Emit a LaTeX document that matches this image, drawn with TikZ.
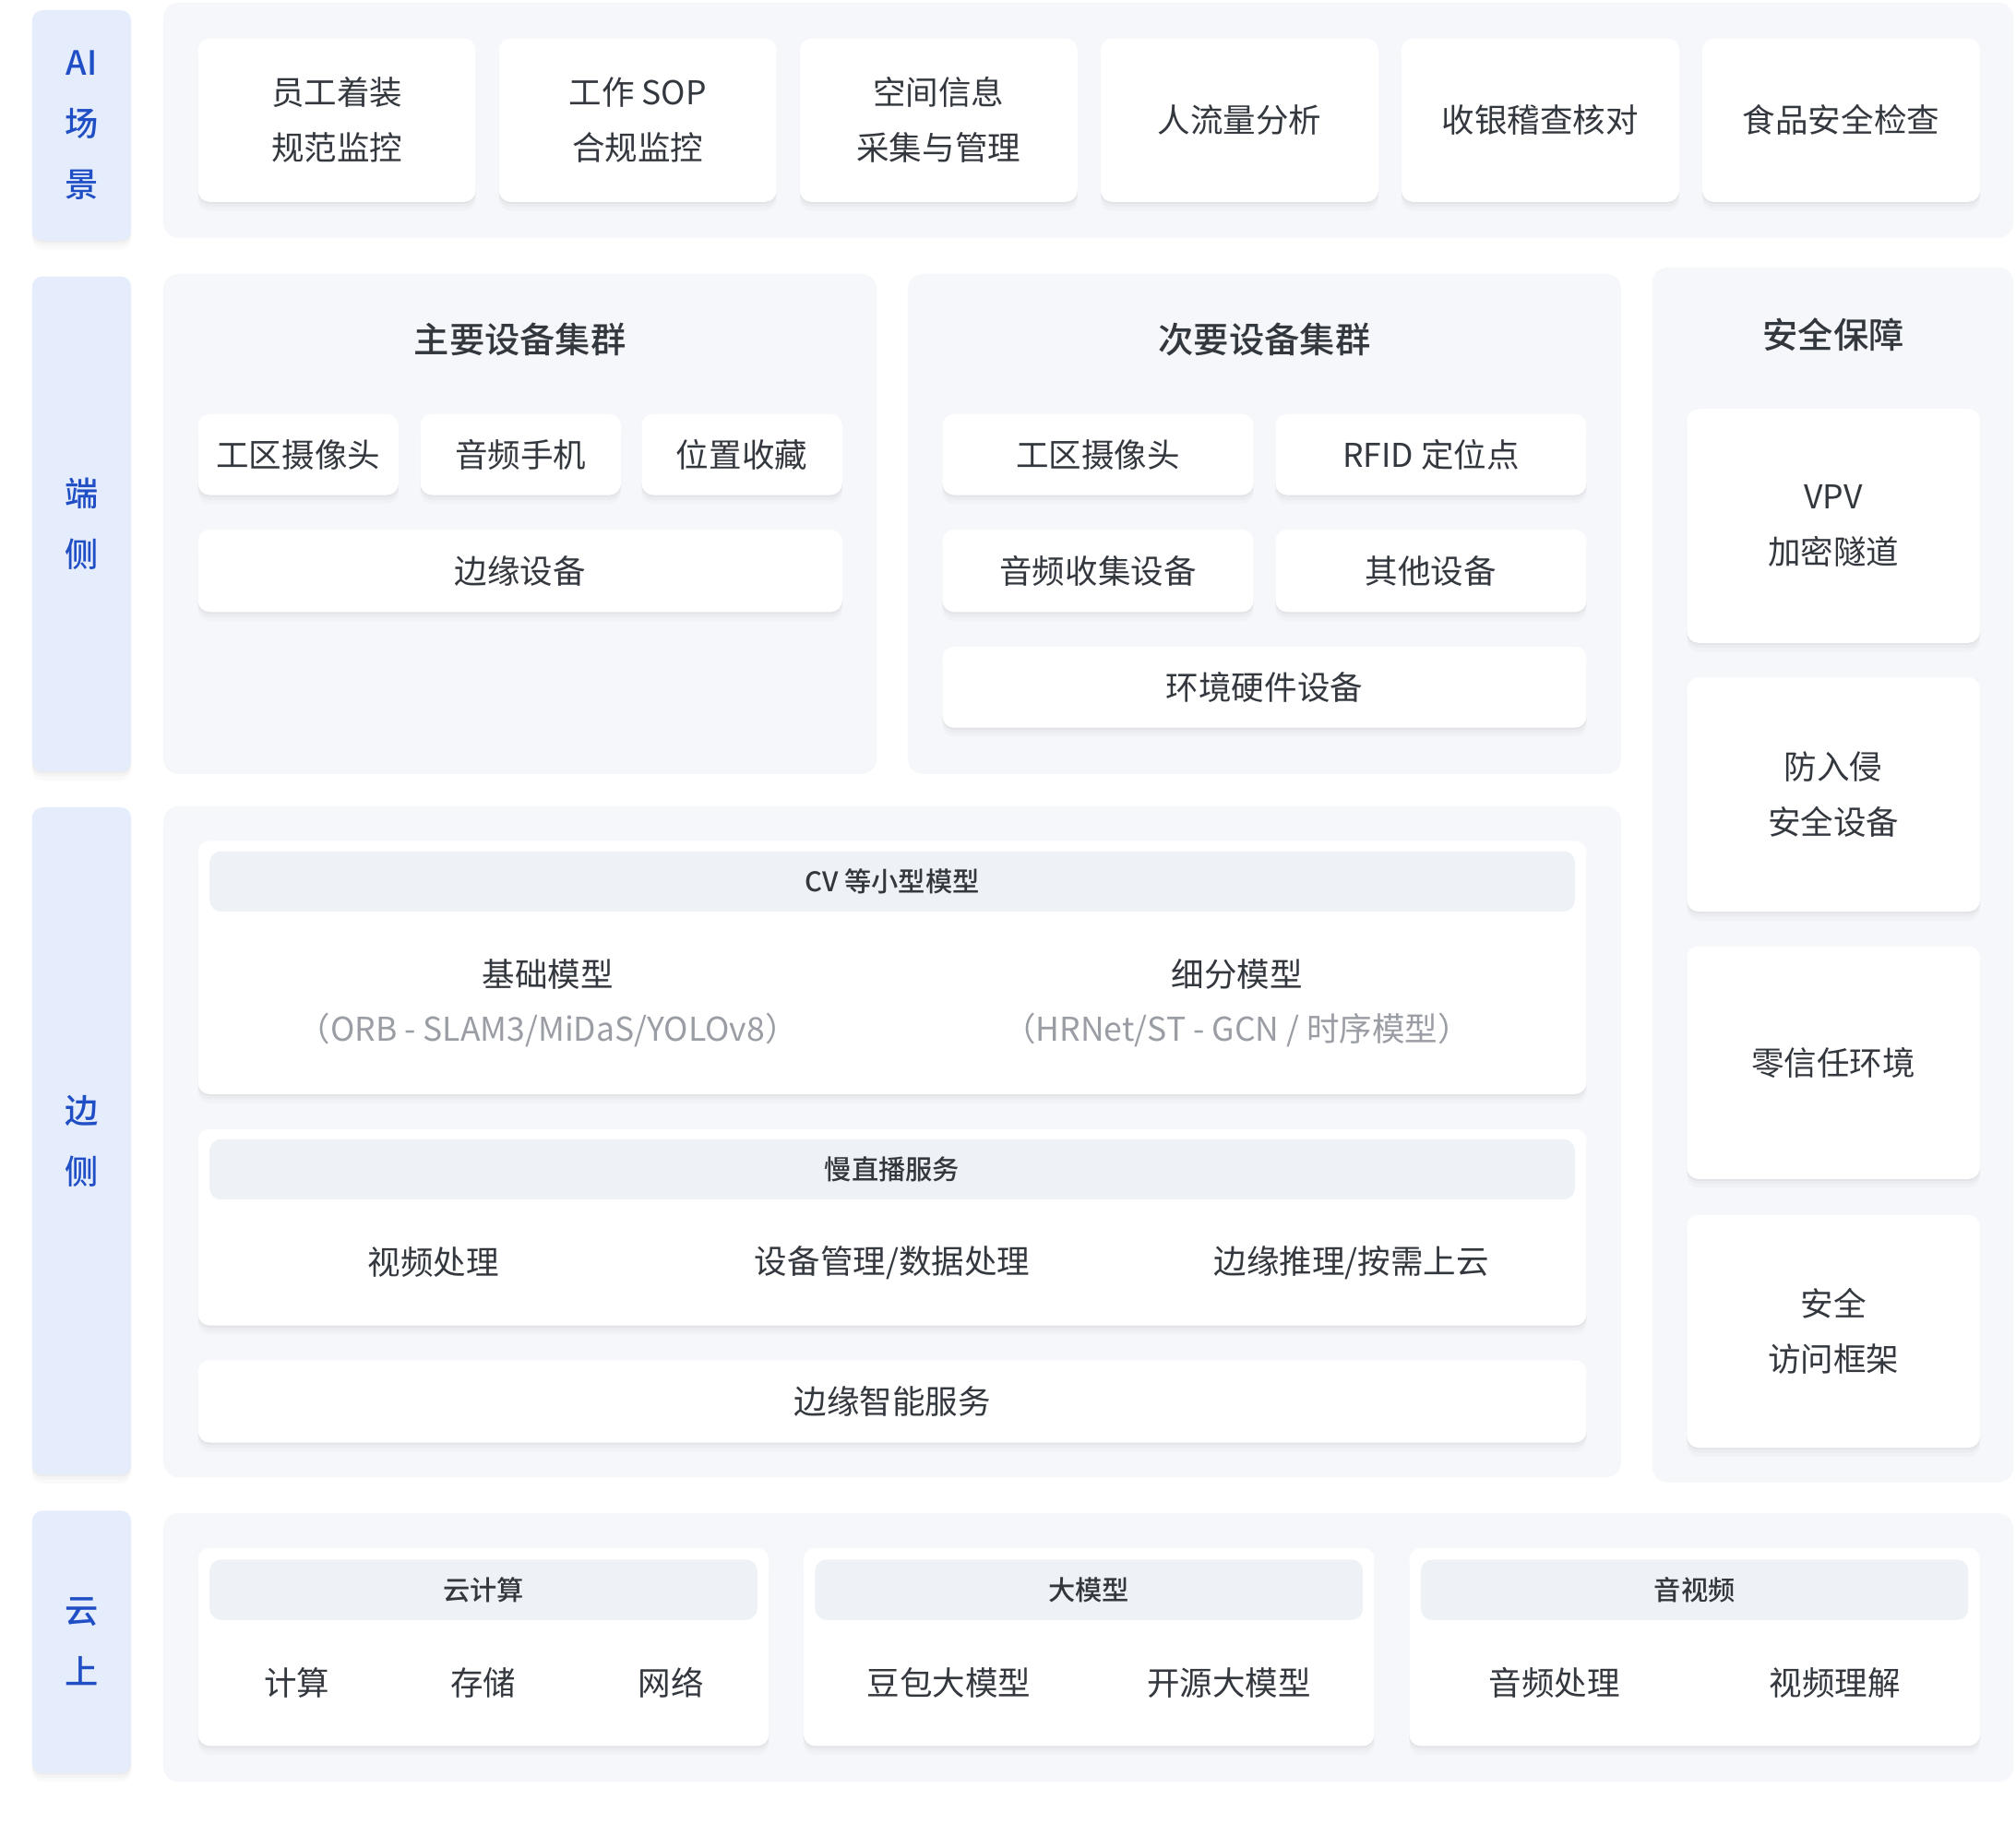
\documentclass[tikz,border=0pt]{standalone}
\usepackage{fontspec}
\setmainfont{Noto Sans CJK SC}[BoldFont={* Medium}]
\usetikzlibrary{shadows}
\definecolor{panelbg}{HTML}{F5F7FA}
\definecolor{headbg}{HTML}{EEF1F5}
\definecolor{labelbg}{HTML}{E5EDFD}
\definecolor{labeltxt}{HTML}{1F4EC5}
\definecolor{maintxt}{HTML}{33373E}
\definecolor{subtxt}{HTML}{9A9DA4}
\newcommand\bdfont{\fontsize{25.5}{43}\selectfont}
\newcommand\ttlfont{\fontsize{27.5}{33}\selectfont\bfseries}
\newcommand\hdfont{\fontsize{21}{25}\selectfont\bfseries}
\newcommand\lblfont{\fontsize{26}{47.5}\selectfont\bfseries}
\newcommand\cardbox[7]{\node[#1, minimum width={(#5-#3)*1pt}, minimum height={(#6-#4)*1pt}] (#2) at ({(#3+#5)/2},{(#4+#6)/2}) {#7};}
\tikzset{
  softshadow/.style={
    drop shadow={shadow xshift=0pt, shadow yshift=-7pt, opacity=0.018, fill=black},
    drop shadow={shadow xshift=0pt, shadow yshift=-4pt, opacity=0.022, fill=black},
    drop shadow={shadow xshift=0pt, shadow yshift=-1.5pt, opacity=0.03, fill=black}},
  panel/.style={fill=panelbg, rounded corners=12pt, inner sep=0pt, draw=none},
  card/.style={softshadow, fill=white, rounded corners=9pt, inner sep=0pt, draw=none, align=center,
    font=\bdfont, text=maintxt},
  header/.style={fill=headbg, rounded corners=9pt, inner sep=0pt, draw=none, font=\hdfont, text=maintxt},
  lbl/.style={softshadow, fill=labelbg, rounded corners=8pt, inner sep=0pt, draw=none, align=center,
    font=\lblfont, text=labeltxt},
  ttl/.style={font=\ttlfont, text=maintxt, inner sep=0pt},
  item/.style={font=\bdfont, text=maintxt, inner sep=0pt, align=center},
  subitem/.style={font=\bdfont, text=subtxt, inner sep=0pt, align=center}
}
\begin{document}
\begin{tikzpicture}[x=1pt,y=-1pt]
\useasboundingbox (0,0) rectangle (1568,1437);
\fill[white] (0,0) rectangle (1568,1437);

% ---- left labels ----
\cardbox{lbl}{lAI}{25}{8}{102}{187}{AI\\场\\景}
\cardbox{lbl}{lDuan}{25}{215}{102}{600}{端\\侧}
\cardbox{lbl}{lBian}{25}{628}{102}{1147}{边\\侧}
\cardbox{lbl}{lYun}{25}{1175}{102}{1379}{云\\上}

% ---- row 1: AI scenes ----
\cardbox{panel}{pAI}{127}{2}{1566}{185}{}
\cardbox{card}{s1}{154}{30}{370}{157}{员工着装\\规范监控}
\cardbox{card}{s2}{388}{30}{604}{157}{工作 SOP\\合规监控}
\cardbox{card}{s3}{622}{30}{838}{157}{空间信息\\采集与管理}
\cardbox{card}{s4}{856}{30}{1072}{157}{人流量分析}
\cardbox{card}{s5}{1090}{30}{1306}{157}{收银稽查核对}
\cardbox{card}{s6}{1324}{30}{1540}{157}{食品安全检查}

% ---- main device cluster ----
\cardbox{panel}{pMain}{127}{213}{682}{602}{}
\node[ttl] (tMain) at (404.5,264) {主要设备集群};
\cardbox{card}{m1}{154}{322}{310}{385}{工区摄像头}
\cardbox{card}{m2}{327}{322}{483}{385}{音频手机}
\cardbox{card}{m3}{499}{322}{655}{385}{位置收藏}
\cardbox{card}{m4}{154}{412}{655}{476}{边缘设备}

% ---- secondary device cluster ----
\cardbox{panel}{pSec}{706}{213}{1261}{602}{}
\node[ttl] (tSec) at (983.5,264) {次要设备集群};
\cardbox{card}{n1}{733}{322}{975}{385}{工区摄像头}
\cardbox{card}{n2}{992}{322}{1234}{385}{RFID 定位点}
\cardbox{card}{n3}{733}{412}{975}{476}{音频收集设备}
\cardbox{card}{n4}{992}{412}{1234}{476}{其他设备}
\cardbox{card}{n5}{733}{503}{1234}{566}{环境硬件设备}

% ---- security ----
\cardbox{panel}{pSafe}{1285}{208}{1566}{1153}{}
\node[ttl] (tSafe) at (1426,260) {安全保障};
\cardbox{card}{g1}{1312}{318}{1540}{500}{VPV\\加密隧道}
\cardbox{card}{g2}{1312}{527}{1540}{709}{防入侵\\安全设备}
\cardbox{card}{g3}{1312}{736}{1540}{917}{零信任环境}
\cardbox{card}{g4}{1312}{945}{1540}{1126}{安全\\访问框架}

% ---- edge side ----
\cardbox{panel}{pEdge}{127}{627}{1261}{1149}{}
\cardbox{card}{cv}{154}{654}{1234}{851}{}
\cardbox{header}{cvh}{163}{662}{1225}{709}{CV 等小型模型}
\node[item] (cvA) at (426,758) {基础模型};
\node[subitem] (cvAs) at (426,801) {（ORB - SLAM3/MiDaS/YOLOv8）};
\node[item] (cvB) at (962,758) {细分模型};
\node[subitem] (cvBs) at (962,801) {（HRNet/ST - GCN / 时序模型）};

\cardbox{card}{sl}{154}{878}{1234}{1031}{}
\cardbox{header}{slh}{163}{886}{1225}{933}{慢直播服务}
\node[item] (sl1) at (337,982) {视频处理};
\node[item] (sl2) at (694,982) {设备管理/数据处理};
\node[item] (sl3) at (1051,982) {边缘推理/按需上云};

\cardbox{card}{ei}{154}{1058}{1234}{1122}{边缘智能服务}

% ---- cloud ----
\cardbox{panel}{pCloud}{127}{1177}{1566}{1386}{}
\cardbox{card}{c1}{154}{1204}{598}{1358}{}
\cardbox{header}{c1h}{163}{1213}{589}{1260}{云计算}
\node[item] (c1a) at (231,1309) {计算};
\node[item] (c1b) at (376,1309) {存储};
\node[item] (c1c) at (522,1309) {网络};

\cardbox{card}{c2}{625}{1204}{1069}{1358}{}
\cardbox{header}{c2h}{634}{1213}{1060}{1260}{大模型}
\node[item] (c2a) at (738,1309) {豆包大模型};
\node[item] (c2b) at (956,1309) {开源大模型};

\cardbox{card}{c3}{1096}{1204}{1540}{1358}{}
\cardbox{header}{c3h}{1105}{1213}{1531}{1260}{音视频}
\node[item] (c3a) at (1209,1309) {音频处理};
\node[item] (c3b) at (1427,1309) {视频理解};
\end{tikzpicture}
\end{document}
